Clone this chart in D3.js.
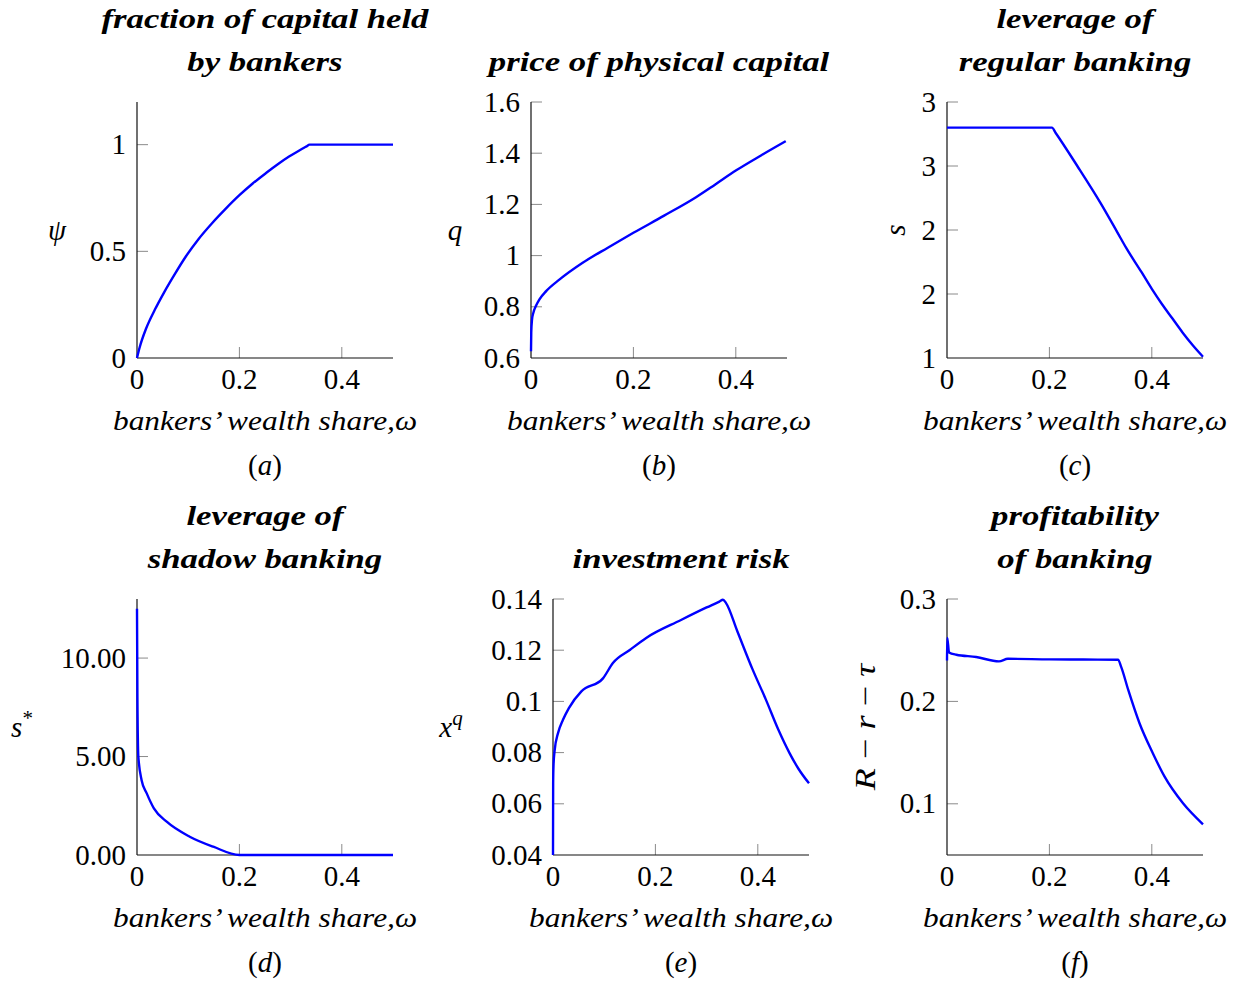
<!DOCTYPE html>
<html>
<head>
<meta charset="utf-8">
<script src="https://cdn.jsdelivr.net/npm/d3@7"></script>
<style>
  html, body { margin: 0; padding: 0; background: #fff; }
  svg { display: block; }
</style>
</head>
<body>
<svg id="chart" width="1239" height="984"></svg>
<script>
// ---------------- DATA ----------------
const xTicks = [0, 0.2, 0.4];
const xTickLabels = ["0", "0.2", "0.4"];

// (a) fraction of capital held by bankers
const omegaA = [0, 0.005, 0.0176, 0.035, 0.053, 0.075, 0.0957, 0.12, 0.147, 0.173, 0.2, 0.226, 0.252, 0.275, 0.297, 0.317, 0.331, 0.337, 0.5];
const psiA   = [0, 0.048, 0.137, 0.227, 0.308, 0.398, 0.477, 0.557, 0.633, 0.699, 0.763, 0.818, 0.867, 0.908, 0.944, 0.973, 0.992, 1.0, 1.0];
const yTicksA = [0, 0.5, 1];
const yTickLabelsA = ["0", "0.5", "1"];

// (b) price of physical capital
const omegaB = [0, 0.0005, 0.002, 0.0045, 0.01, 0.0162, 0.03, 0.0553, 0.1009, 0.15, 0.2, 0.26, 0.3223, 0.36, 0.4, 0.45, 0.4977];
const qB     = [0.626, 0.70, 0.75, 0.776, 0.805, 0.828, 0.862, 0.906, 0.972, 1.031, 1.089, 1.156, 1.228, 1.278, 1.332, 1.392, 1.447];
const yTicksB = [0.6, 0.8, 1.0, 1.2, 1.4, 1.6];
const yTickLabelsB = ["0.6", "0.8", "1", "1.2", "1.4", "1.6"];

// (c) leverage of regular banking
const omegaC = [0, 0.205, 0.212, 0.2545, 0.3, 0.333, 0.35, 0.38, 0.40, 0.42, 0.44, 0.46, 0.48, 0.5];
const sC     = [2.8, 2.8, 2.76, 2.5, 2.21, 1.98, 1.86, 1.67, 1.54, 1.42, 1.31, 1.2, 1.1, 1.01];
const yTicksC = [1, 1.5, 2, 2.5, 3];
const yTickLabelsC = ["1", "2", "2", "3", "3"];

// (d) leverage of shadow banking
const omegaD = [0, 0.0008, 0.0026, 0.009, 0.019, 0.033, 0.058, 0.103, 0.149, 0.2, 0.5];
const sStarD = [12.5, 8.0, 5.0, 3.8, 3.13, 2.37, 1.69, 0.93, 0.42, 0.0, 0.0];
const yTicksD = [0, 5, 10];
const yTickLabelsD = ["0.00", "5.00", "10.00"];

// (e) investment risk
const omegaE = [0, 0.0003, 0.001, 0.0033, 0.0098, 0.0195, 0.031, 0.0554, 0.0976, 0.117, 0.15, 0.182, 0.25, 0.3, 0.325, 0.332, 0.338, 0.36, 0.39, 0.416, 0.44, 0.462, 0.48, 0.5];
const xqE    = [0.04, 0.068, 0.075, 0.081, 0.0876, 0.0928, 0.0974, 0.1039, 0.109, 0.115, 0.1201, 0.1248, 0.1318, 0.1367, 0.139, 0.1397, 0.1384, 0.1274, 0.1124, 0.1006, 0.089, 0.0798, 0.0735, 0.068];
const yTicksE = [0.04, 0.06, 0.08, 0.1, 0.12, 0.14];
const yTickLabelsE = ["0.04", "0.06", "0.08", "0.1", "0.12", "0.14"];

// (f) profitability of banking
const omegaF = [0, 0.0005, 0.004, 0.0183, 0.057, 0.1015, 0.119, 0.2, 0.334, 0.34, 0.354, 0.376, 0.402, 0.425, 0.461, 0.5];
const profF  = [0.24, 0.262, 0.2478, 0.2456, 0.2434, 0.2391, 0.2416, 0.241, 0.2407, 0.234, 0.2112, 0.1787, 0.1494, 0.1265, 0.1005, 0.08];
const yTicksF = [0.1, 0.2, 0.3];
const yTickLabelsF = ["0.1", "0.2", "0.3"];

// ---------------- LAYOUT ----------------
const FONT = "Liberation Serif, DejaVu Serif, serif";
const W = 256, H = 256;

const panels = [
  { left: 137, top: 102, xs: omegaA, ys: psiA, yDomain: [0, 1.2], yTicks: yTicksA, yLabels: yTickLabelsA,
    title: ["fraction of capital held", "by bankers"], ylab: "psi", ylabDx: -80, rot: false, tag: "a" },
  { left: 531, top: 102, xs: omegaB, ys: qB, yDomain: [0.6, 1.6], yTicks: yTicksB, yLabels: yTickLabelsB,
    title: ["price of physical capital"], ylab: "q", ylabDx: -76, rot: false, tag: "b" },
  { left: 947, top: 102, xs: omegaC, ys: sC, yDomain: [1, 3], yTicks: yTicksC, yLabels: yTickLabelsC,
    title: ["leverage of", "regular banking"], ylab: "s", ylabDx: -52, rot: true, tag: "c" },
  { left: 137, top: 599, xs: omegaD, ys: sStarD, yDomain: [0, 13], yTicks: yTicksD, yLabels: yTickLabelsD,
    title: ["leverage of", "shadow banking"], ylab: "sstar", ylabDx: -115, rot: false, tag: "d" },
  { left: 553, top: 599, xs: omegaE, ys: xqE, yDomain: [0.04, 0.14], yTicks: yTicksE, yLabels: yTickLabelsE,
    title: ["investment risk"], ylab: "xq", ylabDx: -102, rot: false, tag: "e" },
  { left: 947, top: 599, xs: omegaF, ys: profF, yDomain: [0.05, 0.3], yTicks: yTicksF, yLabels: yTickLabelsF,
    title: ["profitability", "of banking"], ylab: "Rrt", ylabDx: -82, rot: true, tag: "f" }
];

const svg = d3.select("#chart");

function stretch(sel, factor) {
  sel.each(function() {
    const len = this.getComputedTextLength();
    d3.select(this).attr("textLength", len * factor).attr("lengthAdjust", "spacingAndGlyphs");
  });
}

panels.forEach(p => {
  const g = svg.append("g").attr("transform", `translate(${p.left},${p.top})`);
  const x = d3.scaleLinear().domain([0, 0.5]).range([0, W]);
  const y = d3.scaleLinear().domain(p.yDomain).range([H, 0]);

  // ticks (inward, gray)
  g.selectAll(".xt").data(xTicks.filter(t => t > 0)).join("line")
    .attr("x1", d => x(d)).attr("x2", d => x(d)).attr("y1", H).attr("y2", H - 11)
    .attr("stroke", "#8a8a8a").attr("stroke-width", 1);
  g.selectAll(".yt").data(p.yTicks.filter(t => t > p.yDomain[0])).join("line")
    .attr("x1", 0).attr("x2", 11).attr("y1", d => y(d)).attr("y2", d => y(d))
    .attr("stroke", "#8a8a8a").attr("stroke-width", 1);

  // axis lines
  g.append("line").attr("x1", 0).attr("x2", W).attr("y1", H).attr("y2", H)
    .attr("stroke", "#111").attr("stroke-width", 1.2);
  g.append("line").attr("x1", 0).attr("x2", 0).attr("y1", 0).attr("y2", H)
    .attr("stroke", "#111").attr("stroke-width", 1.2);

  // tick labels
  g.selectAll(".xl").data(xTicks).join("text")
    .attr("x", d => x(d)).attr("y", H + 31)
    .attr("text-anchor", "middle").attr("font-family", FONT).attr("font-size", 29)
    .text((d, i) => xTickLabels[i]);
  g.selectAll(".yl").data(p.yTicks).join("text")
    .attr("x", -11).attr("y", d => y(d)).attr("dy", "0.33em")
    .attr("text-anchor", "end").attr("font-family", FONT).attr("font-size", 29)
    .text((d, i) => p.yLabels[i]);

  // line
  const pts = p.xs.map((v, i) => [v, p.ys[i]]);
  g.append("path").datum(pts)
    .attr("fill", "none").attr("stroke", "#0000ff").attr("stroke-width", 2.4)
    .attr("stroke-linejoin", "round")
    .attr("d", d3.line().x(d => x(d[0])).y(d => y(d[1])).curve(d3.curveMonotoneX));

  // titles
  const cx = W / 2;
  const tl = p.title.length === 2 ? [-74, -31] : [-31];
  p.title.forEach((t, i) => {
    const tt = g.append("text").attr("x", cx).attr("y", tl[i])
      .attr("text-anchor", "middle").attr("font-family", FONT).attr("font-size", 28)
      .attr("font-weight", "bold").attr("font-style", "italic").text(t);
    stretch(tt, 1.24);
  });

  // x label
  const xl = g.append("text").attr("x", cx).attr("y", H + 72)
    .attr("text-anchor", "middle").attr("font-family", FONT).attr("font-size", 28)
    .attr("font-style", "italic").text("bankers’ wealth share,ω");
  stretch(xl, 1.12);

  // panel tag
  const tg = g.append("text").attr("x", cx).attr("y", H + 117)
    .attr("text-anchor", "middle").attr("font-family", FONT).attr("font-size", 29);
  tg.append("tspan").text("(");
  tg.append("tspan").attr("font-style", "italic").text(p.tag);
  tg.append("tspan").text(")");

  // y label
  const ly = g.append("text").attr("font-family", FONT).attr("font-size", 29)
    .attr("font-style", "italic").attr("text-anchor", "middle");
  if (p.rot) {
    ly.attr("transform", `translate(${p.ylabDx},${H / 2}) rotate(-90)`).attr("dy", "0.33em");
  } else {
    ly.attr("x", p.ylabDx).attr("y", H / 2).attr("dy", "0.33em");
  }
  if (p.ylab === "psi") ly.text("ψ");
  else if (p.ylab === "q") ly.text("q");
  else if (p.ylab === "s") ly.text("s");
  else if (p.ylab === "sstar") {
    ly.append("tspan").text("s");
    ly.append("tspan").attr("font-style", "normal").attr("font-size", 21).attr("dy", "-0.55em").text("*");
  } else if (p.ylab === "xq") {
    ly.append("tspan").text("x");
    ly.append("tspan").attr("font-size", 21).attr("dy", "-0.55em").text("q");
  } else if (p.ylab === "Rrt") {
    ly.append("tspan").text("R");
    ly.append("tspan").attr("font-style", "normal").text(" − ");
    ly.append("tspan").text("r");
    ly.append("tspan").attr("font-style", "normal").text(" − ");
    ly.append("tspan").text("τ");
    stretch(ly, 1.25);
  }
});
</script>
</body>
</html>
